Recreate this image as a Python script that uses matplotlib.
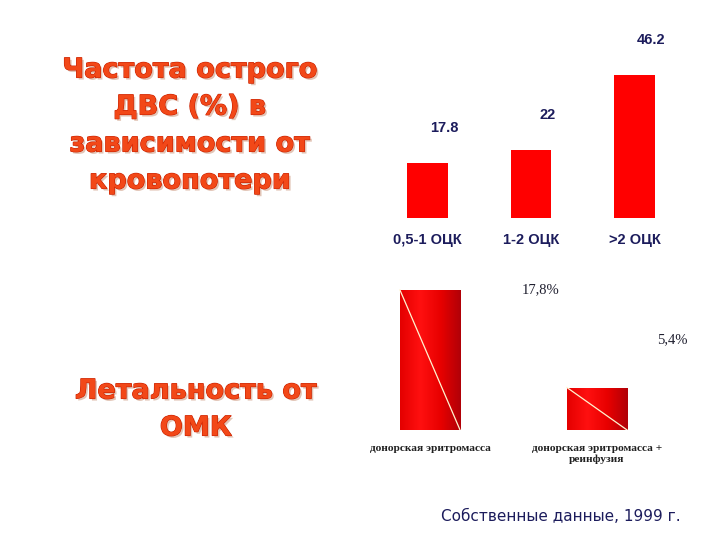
import matplotlib
matplotlib.use("Agg")
import matplotlib.pyplot as plt
import matplotlib.patheffects as pe
import numpy as np

# DIC frequency vs blood loss
dic_labels = ["0,5-1 ОЦК", "1-2 ОЦК", ">2 ОЦК"]
dic_values = [17.8, 22, 46.2]
dic_texts = ["17.8", "22", "46.2"]

# lethality vs transfusion type
leth_labels = ["донорская эритромасса", "донорская эритромасса +\nреинфузия"]
leth_values = [17.8, 5.4]
leth_texts = ["17,8%", "5,4%"]

navy = "#1c1c5c"
W, H = 720, 540

fig = plt.figure(figsize=(7.2, 5.4), dpi=100)
fig.patch.set_facecolor("white")


def fbox(left, top, width, height):
    # pixel box (from top-left) -> figure fraction
    return [left / W, (H - top - height) / H, width / W, height / H]


# ---- top chart ----
ax1 = fig.add_axes(fbox(375.75, 30, 310.5, 188))
x1 = np.arange(len(dic_values))
bars1 = ax1.bar(x1, dic_values, width=0.39, color="#ff0000")
ax1.set_xlim(-0.5, 2.5)
ax1.set_ylim(0, 60.7)
for b, t in zip(bars1, dic_texts):
    ax1.annotate(t, (b.get_x() + b.get_width() / 2, b.get_height()),
                 xytext=(17, 35), textcoords="offset pixels",
                 ha="center", va="center", fontsize=10.5, color=navy,
                 fontweight="bold", family="Liberation Sans")
ax1.set_xticks(x1)
ax1.set_xticklabels(dic_labels, fontsize=10.5, color=navy, fontweight="bold",
                    family="Liberation Sans")
ax1.tick_params(axis="x", length=0, pad=11)
ax1.set_yticks([])
for s in ax1.spines.values():
    s.set_visible(False)

# ---- bottom chart ----
ax2 = fig.add_axes(fbox(346.5, 270, 334, 160))
x2 = np.arange(len(leth_values))
bars2 = ax2.bar(x2, leth_values, width=0.36, color="#e00000")

grad = np.linspace(0, 1, 256).reshape(1, -1)
cmap = matplotlib.colors.LinearSegmentedColormap.from_list(
    "redgrad", ["#e40000", "#ff1010", "#e80000", "#b00008"])
for b in bars2:
    x0, w, h = b.get_x(), b.get_width(), b.get_height()
    im = ax2.imshow(grad, extent=[x0, x0 + w, 0, h], aspect="auto",
                    cmap=cmap, zorder=2)
    im.set_clip_path(b)
    ax2.plot([x0, x0 + w], [h, 0], color="#fff4d0", lw=0.9, zorder=3)

ax2.set_xlim(-0.5, 1.5)
ax2.set_ylim(0, 20.34)

label_offsets = [(111, 0), (75, 48)]
for b, t, off in zip(bars2, leth_texts, label_offsets):
    ax2.annotate(t, (b.get_x() + b.get_width() / 2, b.get_height()),
                 xytext=off, textcoords="offset pixels",
                 ha="center", va="center", fontsize=10.5, color="#202030",
                 family="Liberation Serif")
ax2.set_xticks(x2)
ax2.set_xticklabels(leth_labels, fontsize=8.2, fontweight="bold",
                    family="Liberation Serif", color="#202020", va="top")
ax2.tick_params(axis="x", length=0, pad=10)
ax2.set_yticks([])
for s in ax2.spines.values():
    s.set_visible(False)

# ---- left titles ----
title_fx = [pe.withSimplePatchShadow(offset=(1.5, -1.5), shadow_rgbFace="#c08060", alpha=0.45),
            pe.Stroke(linewidth=0.8, foreground="#c82000"), pe.Normal()]
fig.text(190 / W, 1 - 126 / H, "Частота острого\nДВС (%) в\nзависимости от\nкровопотери",
         ha="center", va="center", fontsize=19.5, fontweight="bold", color="#f24818",
         linespacing=1.55, family="DejaVu Sans", path_effects=title_fx)
fig.text(196 / W, 1 - 410 / H, "Летальность от\nОМК",
         ha="center", va="center", fontsize=19.5, fontweight="bold", color="#f24818",
         linespacing=1.55, family="DejaVu Sans", path_effects=title_fx)

fig.text(561 / W, 1 - 516 / H, "Собственные данные, 1999 г.",
         ha="center", va="center", fontsize=11, color=navy, family="DejaVu Sans")

fig.savefig("out.png", dpi=100, facecolor="white")
